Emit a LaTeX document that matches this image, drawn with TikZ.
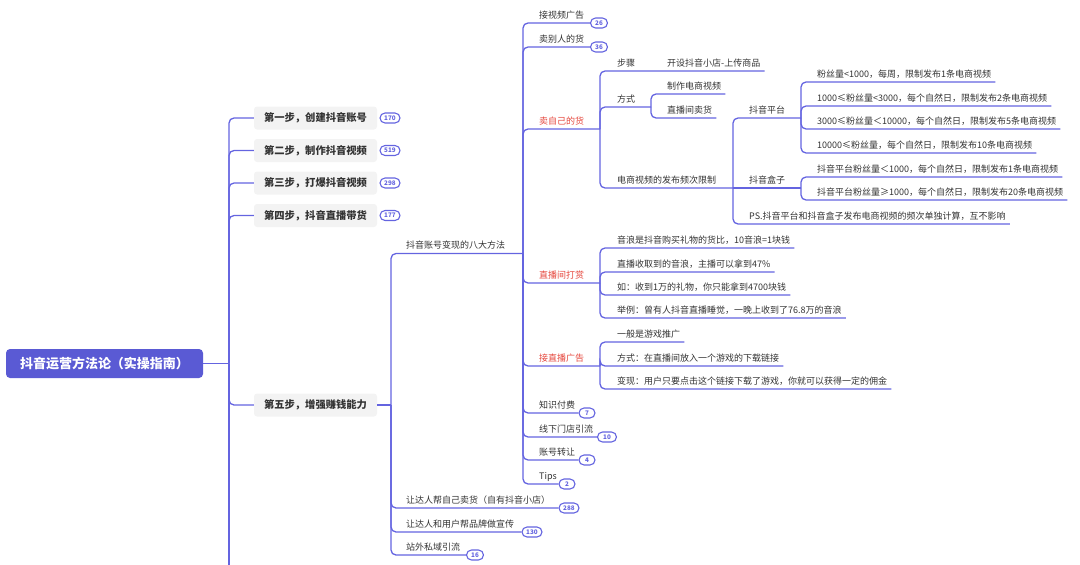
\documentclass[tikz,border=0pt]{standalone}
\usepackage{fontspec}
\setmainfont{Noto Sans CJK SC}
\usetikzlibrary{calc}
\definecolor{lc}{HTML}{6464E0}
\definecolor{rootc}{HTML}{5A5AD4}
\definecolor{tc}{HTML}{333333}
\definecolor{redc}{HTML}{E5463C}
\definecolor{boxc}{HTML}{F3F3F3}
\begin{document}
\begin{tikzpicture}[x=1pt,y=-1pt,
 ln/.style={draw=lc,line width=1.3pt,rounded corners=5pt},
 txt/.style={anchor=west,inner sep=0pt,font=\fontsize{9}{9}\selectfont,text=tc,text height=7.9pt,text depth=1.1pt},
 rtxt/.style={txt,text=redc},
 stepbox/.style={fill=boxc,rounded corners=3pt,minimum width=123pt,minimum height=23pt,inner sep=0pt,font=\bfseries\fontsize{10.3}{10.3}\selectfont,text=tc},
 badge/.style={draw=lc,line width=1.1pt,fill=white,rounded corners=5pt,minimum height=10pt,inner sep=0pt,font=\bfseries\fontsize{6.3}{6.3}\selectfont,text=lc},
]
\useasboundingbox (0,0) rectangle (1080,565);
% root and first level
\node[fill=rootc,rounded corners=4pt,minimum width=197pt,minimum height=29pt,inner sep=0pt,font=\bfseries\fontsize{13}{13}\selectfont,text=white] (root) at (104.5,363.5) {抖音运营方法论（实操指南）};
\coordinate (j0) at (229,363.5);
\coordinate (j0b) at (229,567);
\node[stepbox] (s1) at (315.5,118) {第一步，创建抖音账号};
\node[stepbox] (s2) at (315.5,150.5) {第二步，制作抖音视频};
\node[stepbox] (s3) at (315.5,183) {第三步，打爆抖音视频};
\node[stepbox] (s4) at (315.5,215.5) {第四步，抖音直播带货};
\node[stepbox] (s5) at (315.5,405) {第五步，增强赚钱能力};
\node[badge,minimum width=20pt] (b1) at (390,118) {170};
\node[badge,minimum width=20pt] (b2) at (390,150.5) {519};
\node[badge,minimum width=20pt] (b3) at (390,183) {298};
\node[badge,minimum width=20pt] (b4) at (390,215.5) {177};
\draw[ln] (root.east) -- (j0);
\draw[ln] (j0) -- (j0b);
\foreach \s in {s1,s2,s3,s4,s5} \draw[ln] (j0) |- (\s.west);
% step five
\coordinate (j1) at (391,405);
\draw[ln] (s5.east) -- (j1);
\node[txt] (m1) at (406,245.5) {抖音账号变现的八大方法};
\coordinate (j2) at (523,253.5);
\draw[ln] (j1) |- (j2);
\node[txt] (m2) at (406,500) {让达人帮自己卖货（自有抖音小店）};
\node[badge,minimum width=20pt] (bm2) at (569,508) {288};
\node[txt] (m3) at (406,524) {让达人和用户帮品牌做宣传};
\node[badge,minimum width=20pt] (bm3) at (532,532) {130};
\node[txt] (m4) at (406,547) {站外私域引流};
\node[badge,minimum width=17pt] (bm4) at (475,555) {16};
\draw[ln] (j1) |- (bm2.west);
\draw[ln] (j1) |- (bm3.west);
\draw[ln] (j1) |- (bm4.west);
% eight methods
\node[txt] (n1) at (539,15) {接视频广告};
\node[badge,minimum width=17pt] (bn1) at (599,23) {26};
\node[txt] (n2) at (539,39) {卖别人的货};
\node[badge,minimum width=17pt] (bn2) at (599,47) {36};
\node[rtxt] (n3) at (539,121) {卖自己的货};
\node[rtxt] (n4) at (539,275) {直播间打赏};
\node[rtxt] (n5) at (539,358) {接直播广告};
\node[txt] (n6) at (539,405) {知识付费};
\node[badge,minimum width=16pt] (bn6) at (587,413) {7};
\node[txt] (n7) at (539,429) {线下门店引流};
\node[badge,minimum width=19pt] (bn7) at (607,437) {10};
\node[txt] (n8) at (539,452) {账号转让};
\node[badge,minimum width=16pt] (bn8) at (587,460) {4};
\node[txt] (n9) at (539,476) {Tips};
\node[badge,minimum width=16pt] (bn9) at (567,484) {2};
\coordinate (j3) at (600,129);
\coordinate (j4) at (600,283);
\coordinate (j5) at (600,366);
\foreach \b in {bn1,bn2,bn6,bn7,bn8,bn9} \draw[ln] (j2) |- (\b.west);
\foreach \j in {j3,j4,j5} \draw[ln] (j2) |- (\j);
% sell own goods
\node[txt] (o1) at (617,63) {步骤};
\node[txt] (p1) at (667,63) {开设抖音小店-上传商品};
\coordinate (j6) at (651,71);
\draw[ln] (j3) |- (j6) -- ($(p1.east)+(4,8)$);
\node[txt] (o2) at (617,99) {方式};
\coordinate (j7) at (651,107);
\node[txt] (p2) at (667,86) {制作电商视频};
\node[txt] (p3) at (667,110) {直播间卖货};
\draw[ln] (j3) |- (j7);
\draw[ln] (j7) |- ($(p2.east)+(4,8)$);
\draw[ln] (j7) |- ($(p3.east)+(4,8)$);
\node[txt] (o3) at (617,180) {电商视频的发布频次限制};
\coordinate (j8) at (733,188);
\draw[ln] (j3) |- (j8);
\node[txt] (q1) at (749,110) {抖音平台};
\coordinate (j9) at (801,118);
\node[txt] (q2) at (749,180) {抖音盒子};
\coordinate (j10) at (801,188);
\node[txt] (q3) at (749,216) {PS.抖音平台和抖音盒子发布电商视频的频次单独计算，互不影响};
\draw[ln] (j8) |- (j9);
\draw[ln] (j8) -- (j10);
\draw[ln] (j8) |- ($(q3.east)+(4,8)$);
\node[txt] (r1) at (817,74) {粉丝量<1000，每周，限制发布1条电商视频};
\node[txt] (r2) at (817,98) {1000≤粉丝量<3000，每个自然日，限制发布2条电商视频};
\node[txt] (r3) at (817,121) {3000≤粉丝量＜10000，每个自然日，限制发布5条电商视频};
\node[txt] (r4) at (817,145) {10000≤粉丝量，每个自然日，限制发布10条电商视频};
\foreach \r in {r1,r2,r3,r4} \draw[ln] (j9) |- ($(\r.east)+(4,8)$);
\node[txt] (r5) at (817,169) {抖音平台粉丝量＜1000，每个自然日，限制发布1条电商视频};
\node[txt] (r6) at (817,192) {抖音平台粉丝量≥1000，每个自然日，限制发布20条电商视频};
\foreach \r in {r5,r6} \draw[ln] (j10) |- ($(\r.east)+(4,8)$);
% live tipping
\node[txt] (t1) at (617,240) {音浪是抖音购买礼物的货比，10音浪=1块钱};
\node[txt] (t2) at (617,264) {直播收取到的音浪，主播可以拿到47\%};
\node[txt] (t3) at (617,287) {如：收到1万的礼物，你只能拿到4700块钱};
\node[txt] (t4) at (617,310) {举例：曾有人抖音直播睡觉，一晚上收到了76.8万的音浪};
\foreach \t in {t1,t2,t3,t4} \draw[ln] (j4) |- ($(\t.east)+(4,8)$);
% live ads
\node[txt] (u1) at (617,334) {一般是游戏推广};
\node[txt] (u2) at (617,358) {方式：在直播间放入一个游戏的下载链接};
\node[txt] (u3) at (617,381) {变现：用户只要点击这个链接下载了游戏，你就可以获得一定的佣金};
\foreach \u in {u1,u2,u3} \draw[ln] (j5) |- ($(\u.east)+(4,8)$);
\end{tikzpicture}
\end{document}
